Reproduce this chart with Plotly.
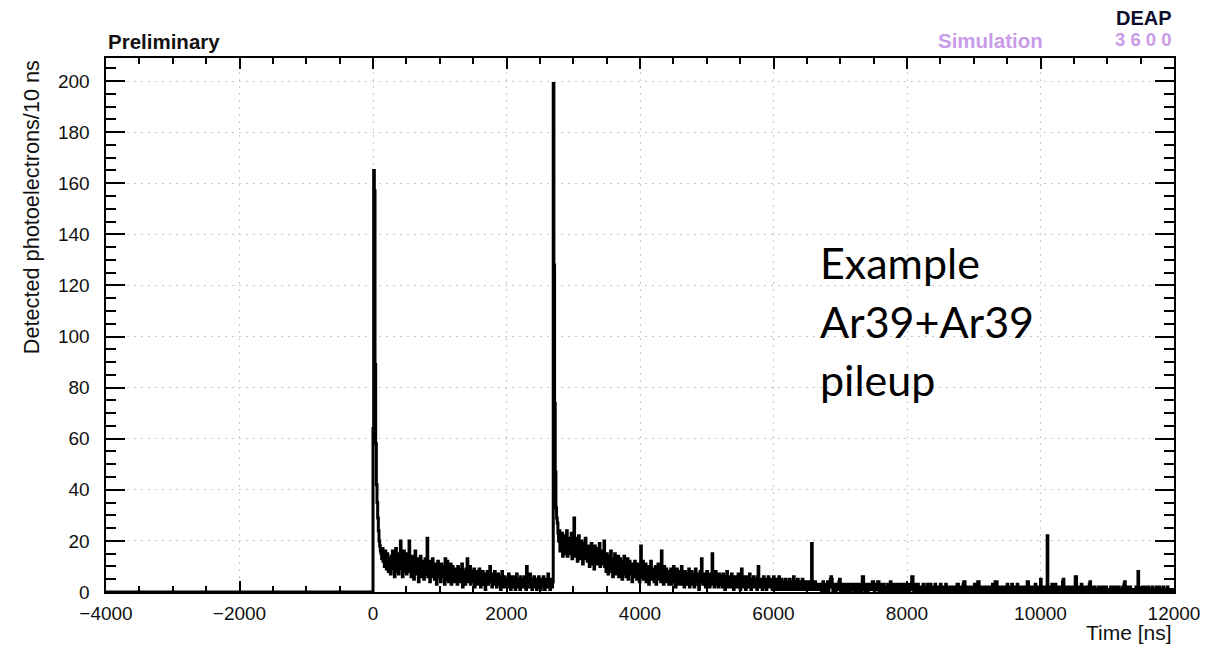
import numpy as np
import plotly.graph_objects as go

# Histogram binning (ns)
BIN_NS = 10
T_MIN, T_MAX = -4000, 12000
PULSE1_START = 0
PULSE2_START = 2700

# Detected photoelectrons per 10 ns bin, first Ar39 event (0 - 2700 ns)
pulse1_counts = [
    64, 165, 157, 89, 58, 42, 35, 29, 24, 20, 18, 16, 15, 13, 17, 12, 14, 10, 16, 11, 9, 15, 12, 8, 13,
    11, 7, 14, 10, 16, 9, 12, 6, 13, 17, 8, 11, 15, 7, 12, 10, 20, 9, 14, 6, 12, 16, 8, 11, 13,
    7, 15, 10, 13, 20, 8, 11, 6, 14, 9, 12, 5, 10, 16, 8, 11, 7, 13, 4, 10, 9, 14, 6, 11, 8,
    12, 5, 9, 13, 7, 10, 21, 6, 11, 8, 4, 12, 9, 6, 13, 7, 10, 5, 11, 8, 3, 9, 12, 6, 10,
    7, 4, 11, 8, 10, 6, 9, 3, 13, 7, 5, 12, 8, 4, 9, 6, 11, 3, 8, 10, 5, 7, 4, 9, 6,
    8, 3, 10, 5, 7, 9, 4, 6, 11, 2, 8, 5, 7, 3, 9, 6, 13, 4, 7, 5, 10, 3, 6, 8, 4,
    6, 9, 2, 7, 5, 8, 3, 6, 4, 9, 5, 2, 7, 4, 8, 3, 6, 5, 1, 7, 4, 8, 3, 5, 6,
    10, 4, 6, 2, 7, 5, 3, 8, 4, 6, 2, 5, 7, 3, 4, 6, 1, 5, 8, 3, 4, 2, 6, 5, 3,
    5, 2, 4, 7, 3, 6, 1, 4, 5, 2, 6, 3, 5, 1, 4, 7, 2, 3, 5, 4, 1, 6, 3, 2, 5,
    4, 2, 6, 3, 1, 10, 4, 2, 5, 3, 7, 2, 4, 1, 5, 3, 6, 2, 4, 3, 1, 5, 2, 6, 3,
    4, 1, 3, 5, 2, 6, 3, 1, 4, 2, 5, 3, 7, 2, 4, 1, 3, 5, 2, 4,
]

# Detected photoelectrons per 10 ns bin, second Ar39 event (2700 - 12000 ns)
pulse2_counts = [
    199, 128, 74, 47, 33, 29, 27, 23, 20, 24, 16, 21, 18, 23, 14, 19, 22, 15, 20, 17, 24, 14, 19, 16, 21,
    15, 18, 23, 13, 20, 17, 29, 14, 19, 16, 21, 12, 18, 22, 15, 17, 13, 20, 16, 11, 19, 14, 17, 21, 13,
    16, 12, 18, 14, 10, 17, 15, 19, 11, 14, 16, 9, 18, 13, 15, 11, 17, 12, 14, 19, 10, 15, 13, 16, 11,
    12, 20, 10, 13, 8, 15, 11, 7, 14, 9, 12, 16, 8, 11, 6, 13, 10, 15, 7, 12, 9, 11, 14, 6, 10,
    13, 8, 11, 5, 12, 9, 14, 7, 10, 6, 11, 13, 5, 9, 12, 7, 10, 8, 4, 11, 9, 6, 12, 8, 10,
    5, 9, 11, 7, 4, 10, 18, 6, 8, 12, 5, 9, 7, 11, 4, 8, 10, 6, 3, 9, 7, 12, 5, 8, 6,
    9, 4, 7, 10, 3, 8, 6, 11, 5, 7, 9, 4, 16, 6, 8, 3, 10, 5, 7, 9, 4, 6, 8, 3, 7,
    5, 9, 3, 7, 6, 10, 4, 8, 2, 6, 9, 5, 7, 3, 8, 4, 6, 10, 3, 5, 7, 2, 8, 4, 6,
    3, 7, 5, 9, 2, 6, 4, 8, 3, 5, 7, 2, 6, 9, 4, 5, 3, 7, 1, 6, 8, 4, 13, 5, 3,
    6, 4, 7, 2, 5, 8, 3, 6, 4, 2, 7, 5, 3, 15, 4, 6, 2, 5, 8, 3, 4, 6, 2, 7, 5,
    3, 6, 4, 2, 7, 5, 3, 1, 6, 4, 8, 2, 5, 3, 6, 4, 2, 7, 3, 5, 1, 4, 6, 3, 5,
    2, 4, 7, 3, 5, 1, 4, 9, 3, 6, 2, 5, 4, 1, 6, 3, 5, 2, 4, 7, 3, 1, 5, 4, 2,
    6, 3, 5, 2, 4, 1, 6, 10, 3, 4, 2, 5, 3, 1, 4, 6, 2, 3, 5, 1, 4, 2, 6, 3, 4,
    2, 5, 3, 1, 4, 6, 2, 3, 5, 1, 4, 2, 3, 6, 1, 4, 2, 5, 3, 1, 4, 3, 2, 5, 1,
    3, 4, 2, 1, 5, 3, 2, 4, 1, 3, 6, 2, 1, 4, 3, 2, 5, 1, 3, 2, 4, 1, 3, 5, 2,
    1, 3, 2, 4, 1, 2, 3, 1, 4, 2, 3, 1, 19, 2, 3, 1, 2, 4, 1, 3, 2, 1, 3, 2, 1,
    2, 3, 0, 2, 4, 1, 3, 0, 1, 3, 2, 4, 0, 2, 3, 5, 6, 5, 2, 0, 3, 2, 1, 0, 3,
    1, 2, 3, 4, 5, 2, 0, 2, 3, 1, 0, 2, 1, 3, 2, 0, 2, 1, 3, 2, 0, 2, 3, 1, 2,
    2, 0, 3, 2, 1, 2, 0, 3, 2, 1, 2, 0, 3, 6, 6, 2, 1, 0, 3, 1, 2, 0, 2, 3, 1,
    2, 1, 3, 4, 4, 2, 0, 2, 3, 1, 2, 4, 4, 0, 2, 1, 3, 2, 0, 2, 3, 1, 2, 0, 2,
    1, 3, 0, 2, 1, 4, 3, 0, 2, 1, 3, 2, 0, 2, 3, 1, 0, 2, 1, 3, 1, 0, 2, 3, 1,
    0, 2, 3, 1, 0, 2, 1, 3, 0, 3, 2, 1, 6, 6, 1, 0, 3, 1, 2, 0, 2, 3, 1, 0, 2,
    2, 0, 2, 1, 3, 2, 0, 2, 1, 0, 3, 1, 2, 0, 2, 3, 2, 0, 2, 1, 0, 1, 3, 2, 0,
    1, 2, 0, 2, 1, 3, 2, 0, 2, 1, 0, 1, 2, 3, 0, 2, 1, 0, 1, 2, 2, 0, 2, 1, 0,
    1, 2, 0, 2, 1, 3, 3, 0, 2, 1, 0, 1, 2, 0, 3, 4, 4, 2, 0, 2, 1, 0, 1, 2, 1,
    0, 1, 2, 0, 2, 1, 3, 0, 2, 1, 0, 4, 4, 1, 0, 1, 2, 0, 2, 1, 0, 2, 1, 0, 1,
    2, 0, 2, 1, 0, 1, 2, 0, 3, 2, 1, 0, 4, 4, 4, 0, 2, 1, 0, 1, 2, 0, 2, 1, 0,
    1, 2, 0, 2, 1, 3, 0, 2, 1, 0, 1, 2, 3, 0, 2, 1, 0, 1, 2, 0, 3, 1, 0, 1, 2,
    0, 2, 1, 0, 1, 2, 0, 2, 1, 0, 4, 4, 0, 2, 1, 0, 1, 2, 0, 2, 1, 0, 3, 1, 0,
    1, 2, 0, 2, 1, 5, 2, 0, 2, 1, 0, 1, 2, 0, 2, 22, 1, 0, 1, 2, 0, 2, 3, 1, 0,
    1, 0, 3, 1, 2, 0, 2, 1, 0, 1, 2, 0, 2, 4, 5, 1, 0, 1, 2, 0, 2, 1, 0, 1, 2,
    0, 2, 1, 0, 1, 2, 0, 6, 6, 2, 1, 0, 1, 2, 0, 2, 3, 1, 0, 1, 2, 0, 1, 2, 0,
    1, 2, 0, 3, 4, 2, 0, 2, 1, 0, 1, 2, 0, 1, 1, 0, 1, 2, 0, 1, 2, 0, 1, 1, 0,
    2, 1, 0, 2, 1, 0, 1, 1, 0, 1, 2, 0, 1, 1, 0, 2, 1, 0, 1, 2, 0, 1, 2, 0, 1,
    1, 0, 1, 2, 0, 3, 4, 2, 1, 0, 1, 2, 0, 1, 2, 0, 1, 1, 0, 1, 1, 0, 1, 2, 0,
    2, 8, 1, 0, 1, 1, 0, 1, 2, 0, 1, 2, 0, 1, 1, 0, 2, 1, 0, 1, 1, 0, 2, 1, 0,
    1, 1, 0, 2, 1, 0, 1, 1, 2, 0, 1, 1, 0, 1, 2, 0, 1, 1, 0, 1, 2, 0, 1, 1, 0,
    1, 1, 0, 1, 1,
]

# Axis ticks
X_MAJOR, X_MINOR = 2000, 500
Y_MAJOR, Y_MINOR = 20, 5
Y_MAX = 209

# Bin left edges; the empty pre-trigger window is a single zero-valued stretch
edges1 = PULSE1_START + BIN_NS * np.arange(len(pulse1_counts))
edges2 = PULSE2_START + BIN_NS * np.arange(len(pulse2_counts))
x_edges = np.concatenate([[T_MIN], edges1, edges2, [T_MAX]])
y_vals = np.concatenate([[0], pulse1_counts, pulse2_counts, [pulse2_counts[-1]]])

fig = go.Figure(
    go.Scatter(
        x=x_edges,
        y=y_vals,
        mode="lines",
        line=dict(shape="hv", color="black", width=3, simplify=False),
        hoverinfo="skip",
        showlegend=False,
    )
)

HELV = "Liberation Sans, Arial, Helvetica, sans-serif"
AX_FONT = dict(family=HELV, size=19, color="#111111")
GRID = dict(showgrid=True, gridcolor="#c8c8c8", gridwidth=1, griddash="2px,5px")
NBSP = "\u00a0"

fig.update_xaxes(
    range=[T_MIN, T_MAX],
    tick0=T_MIN,
    dtick=X_MAJOR,
    tickformat="d",
    ticks="inside",
    ticklen=11,
    tickwidth=1.5,
    tickcolor="black",
    minor=dict(dtick=X_MINOR, ticks="inside", ticklen=6, tickwidth=1.5, tickcolor="black", showgrid=False),
    mirror="allticks",
    showline=True,
    linecolor="black",
    linewidth=2,
    zeroline=False,
    tickfont=AX_FONT,
    ticklabelstandoff=3,
    **GRID,
)
fig.update_yaxes(
    range=[0, Y_MAX],
    tick0=0,
    dtick=Y_MAJOR,
    ticks="inside",
    ticklen=19,
    tickwidth=1.5,
    tickcolor="black",
    minor=dict(dtick=Y_MINOR, ticks="inside", ticklen=10, tickwidth=1.5, tickcolor="black", showgrid=False),
    mirror="allticks",
    showline=True,
    linecolor="black",
    linewidth=2,
    zeroline=False,
    tickfont=AX_FONT,
    ticksuffix=NBSP * 2,
    **GRID,
)

LILAC = "#c99be8"
annotations = [
    dict(text="<b>Preliminary</b>", x=0.0, y=1.031, xanchor="left", yanchor="middle",
         font=dict(family=HELV, size=20.5, color="#111111")),
    dict(text="<b>Simulation</b>", x=0.879, y=1.033, xanchor="right", yanchor="middle",
         font=dict(family=HELV, size=20.5, color=LILAC)),
    dict(text="<b>DEAP</b>", x=1.0, y=1.074, xanchor="right", yanchor="middle",
         font=dict(family=HELV, size=20, color="#0d0d2b")),
    dict(text="<b>3 6 0 0</b>", x=1.0, y=1.035, xanchor="right", yanchor="middle",
         font=dict(family=HELV, size=18.5, color=LILAC)),
    dict(text="Time [ns]", x=1.0, y=-0.075, xanchor="right", yanchor="middle",
         font=dict(family=HELV, size=21, color="#111111")),
    dict(text="Detected photoelectrons/10 ns", x=-0.070, y=1.0, xanchor="center", yanchor="top",
         textangle=-90, font=dict(family=HELV, size=21.7, color="#111111")),
]
for a in annotations:
    a.update(xref="paper", yref="paper", showarrow=False)

# Caption inside the frame
for line, yv in [("Example", 129), ("Ar39+Ar39", 106), ("pileup", 83)]:
    annotations.append(dict(text=line, x=6670, y=yv, xref="x", yref="y", xanchor="left",
                            yanchor="middle", showarrow=False,
                            font=dict(family="Lato, Open Sans, sans-serif", size=43, color="black")))

fig.update_layout(
    width=1214,
    height=645,
    autosize=False,
    margin=dict(l=106, r=40, t=57.5, b=53),
    paper_bgcolor="white",
    plot_bgcolor="white",
    annotations=annotations,
)

fig.write_html("out.html")
